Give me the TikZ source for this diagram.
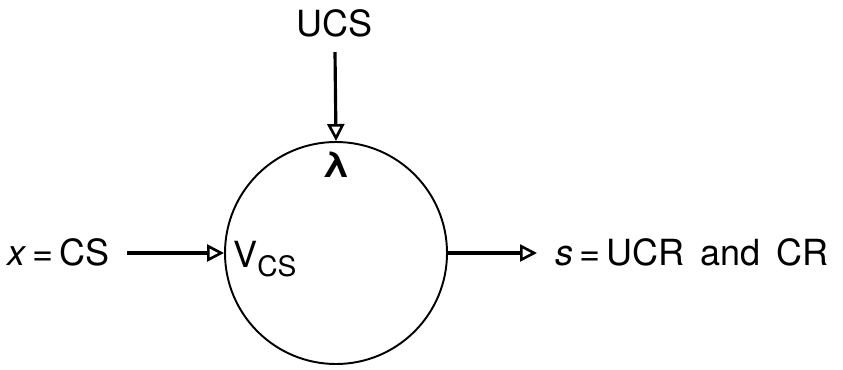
\documentclass[tikz,border=0pt]{standalone}
\usepackage{fontspec}
\setmainfont{TeX Gyre Heros}
\usepackage{tikz}
\usetikzlibrary{arrows.meta, positioning}

\begin{document}
\begin{tikzpicture}[
    every node/.style={font=\fontsize{20.5}{24}\selectfont, inner sep=0pt},
    unit/.style={circle, draw, line width=1.1pt, minimum size=4.44cm},
    arrow/.style={-{Triangle[open, length=0.34cm, width=0.34cm, line width=1.5pt]}, line width=1.8pt}
]
\useasboundingbox (0,0) rectangle (16.86,7.38);

% Nodes
\node[unit] (neuron) at (6.72,2.32) {};
\node (ucs) at (6.70,6.92) {UCS};
\node[below=0.22cm of neuron.north] (lambda) {\textbf{λ}};
\node[right=0.18cm of neuron.west, yshift=-0.12cm] (vcs) {V\raisebox{-0.45ex}{\fontsize{16}{19}\selectfont CS}};
\node[anchor=east] (cs) at (2.2,2.34) {\textit{x}\,=\,CS};
\node[anchor=west] (out) at (11.1,2.34) {\textit{s}\,=\,UCR\ \,and\ \,CR};
\coordinate (outend) at (10.74,2.32);
\coordinate (csend) at (2.54,2.32);

% Arrows
\draw[arrow] (ucs.south) ++(0,-0.3) -- (neuron.north);
\draw[arrow] (csend) -- (neuron.west);
\draw[arrow] (neuron.east) -- (outend);

\end{tikzpicture}
\end{document}
